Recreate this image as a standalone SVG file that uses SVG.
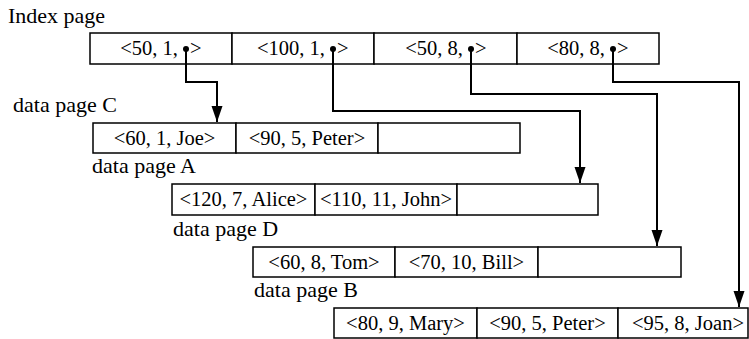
<svg xmlns="http://www.w3.org/2000/svg" width="749" height="339" viewBox="0 0 749 339">
<style>
  .cell { fill: #ffffff; stroke: #000000; stroke-width: 1.5; }
  .t { font-family: "Liberation Serif", "Times New Roman", Times, serif; font-size: 20.5px; fill: #000000; }
  .lbl { font-size: 22px; }
  .m { text-anchor: middle; }
  .e { text-anchor: end; }
  .conn { fill: none; stroke: #000000; stroke-width: 2; }
</style>
<defs>
  <marker id="arr" markerUnits="userSpaceOnUse" markerWidth="17" markerHeight="12" refX="16" refY="5.5" orient="auto">
    <path d="M0,0 L16,5.5 L0,11 Z" fill="#000000"/>
  </marker>
</defs>
<rect width="749" height="339" fill="#ffffff"/>

<g id="index-page">
  <text class="t lbl" x="8" y="23">Index page</text>
  <rect class="cell" x="90" y="33" width="142" height="31"/>
  <rect class="cell" x="232" y="33" width="142" height="31"/>
  <rect class="cell" x="374" y="33" width="143" height="31"/>
  <rect class="cell" x="517" y="33" width="142" height="31"/>
  <text class="t e" x="178" y="55">&lt;50, 1,</text>
  <text class="t" x="190" y="55">&gt;</text>
  <text class="t e" x="325" y="55">&lt;100, 1,</text>
  <text class="t" x="337" y="55">&gt;</text>
  <text class="t e" x="463" y="55">&lt;50, 8,</text>
  <text class="t" x="475" y="55">&gt;</text>
  <text class="t e" x="605" y="55">&lt;80, 8,</text>
  <text class="t" x="617" y="55">&gt;</text>
</g>

<g id="data-page-C">
  <text class="t lbl" x="13" y="112">data page C</text>
  <rect class="cell" x="93" y="123" width="143" height="30"/>
  <rect class="cell" x="236" y="123" width="142" height="30"/>
  <rect class="cell" x="378" y="123" width="142" height="30"/>
  <text class="t m" x="164.5" y="145">&lt;60, 1, Joe&gt;</text>
  <text class="t m" x="307" y="145">&lt;90, 5, Peter&gt;</text>
</g>

<g id="data-page-A">
  <text class="t lbl" x="92" y="173">data page A</text>
  <rect class="cell" x="172" y="184" width="143" height="31"/>
  <rect class="cell" x="315" y="184" width="142" height="31"/>
  <rect class="cell" x="457" y="184" width="141" height="31"/>
  <text class="t m" x="243.5" y="206">&lt;120, 7, Alice&gt;</text>
  <text class="t m" x="386" y="206">&lt;110, 11, John&gt;</text>
</g>

<g id="data-page-D">
  <text class="t lbl" x="173" y="236">data page D</text>
  <rect class="cell" x="253" y="247" width="142" height="30"/>
  <rect class="cell" x="395" y="247" width="143" height="30"/>
  <rect class="cell" x="538" y="247" width="143" height="30"/>
  <text class="t m" x="324" y="269">&lt;60, 8, Tom&gt;</text>
  <text class="t m" x="466.5" y="269">&lt;70, 10, Bill&gt;</text>
</g>

<g id="data-page-B">
  <text class="t lbl" x="254" y="297">data page B</text>
  <rect class="cell" x="334" y="308" width="143" height="30"/>
  <rect class="cell" x="477" y="308" width="141" height="30"/>
  <rect class="cell" x="618" y="308" width="130" height="30"/>
  <text class="t m" x="405.5" y="330">&lt;80, 9, Mary&gt;</text>
  <text class="t m" x="547.5" y="330">&lt;90, 5, Peter&gt;</text>
  <text class="t m" x="688" y="330">&lt;95, 8, Joan&gt;</text>
</g>

<g id="connectors">
  <path class="conn" marker-end="url(#arr)" d="M186,49 V82 H217 V122"/>
  <path class="conn" marker-end="url(#arr)" d="M333,49 V111 H580 V183"/>
  <path class="conn" marker-end="url(#arr)" d="M471,49 V94 H657 V246"/>
  <path class="conn" marker-end="url(#arr)" d="M613,49 V82 H739 V307"/>
  <circle cx="186" cy="49" r="3"/>
  <circle cx="333" cy="49" r="3"/>
  <circle cx="471" cy="49" r="3"/>
  <circle cx="613" cy="49" r="3"/>
</g>
</svg>
